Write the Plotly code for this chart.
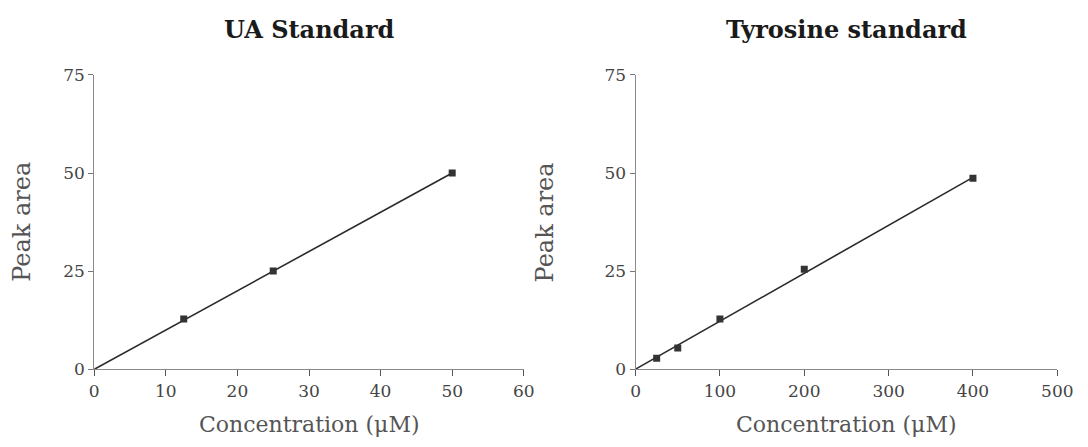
import plotly.graph_objects as go

# Calibration data
ua_conc = [12.5, 25, 50]
ua_area = [12.8, 25, 50]
ua_fit_x = [0, 50]
ua_fit_y = [0, 50]

tyr_conc = [25, 50, 100, 200, 400]
tyr_area = [2.8, 5.4, 12.8, 25.5, 48.7]
tyr_fit_x = [0, 400]
tyr_fit_y = [0, 48.9]

titles = ["UA Standard", "Tyrosine standard"]
x_title = "Concentration (μM)"
y_title = "Peak area"

W, H = 1088, 447

ink = "#2a2a2a"
axis_col = "#8a8a8a"
tick_font = dict(family="DejaVu Serif", size=17, color="#444444")
xlab_font = dict(family="DejaVu Serif", size=22, color="#555555")
ylab_font = dict(family="DejaVu Serif", size=24, color="#555555")
title_font = dict(family="DejaVu Serif", size=24, color="#1a1a1a")


def fx(p):
    return p / W


def fy(p):
    return 1 - p / H


fig = go.Figure()

panels = [
    dict(xa="x", ya="y", xd=[fx(91), fx(529)], xr=[0, 60], dt=10,
         cx=ua_conc, cy=ua_area, fx=ua_fit_x, fy=ua_fit_y, ylab=fx(17)),
    dict(xa="x2", ya="y2", xd=[fx(643), fx(1073)], xr=[0, 500], dt=100,
         cx=tyr_conc, cy=tyr_area, fx=tyr_fit_x, fy=tyr_fit_y, ylab=fx(551)),
]

yd = [fy(376), fy(68)]

for i, p in enumerate(panels):
    fig.add_trace(go.Scatter(x=p["fx"], y=p["fy"], mode="lines",
                             line=dict(color=ink, width=1.6),
                             xaxis=p["xa"], yaxis=p["ya"], showlegend=False))
    fig.add_trace(go.Scatter(x=p["cx"], y=p["cy"], mode="markers",
                             marker=dict(symbol="square", size=7, color="#333333"),
                             xaxis=p["xa"], yaxis=p["ya"], showlegend=False))
    suffix = "" if i == 0 else str(i + 1)
    fig.layout["xaxis" + suffix] = dict(
        domain=p["xd"], range=p["xr"], dtick=p["dt"], tick0=0,
        anchor=p["ya"], showgrid=False, zeroline=False,
        showline=True, linecolor=axis_col, linewidth=1,
        ticks="outside", ticklen=6, tickcolor="#555555", tickwidth=1,
        tickfont=tick_font, fixedrange=True, ticklabeloverflow="allow",
    )
    fig.layout["yaxis" + suffix] = dict(
        domain=yd, range=[0, 75], dtick=25, tick0=0,
        anchor=p["xa"], showgrid=False, zeroline=False,
        showline=True, linecolor=axis_col, linewidth=1,
        ticks="outside", ticklen=5, tickcolor="#777777", tickwidth=1,
        tickfont=tick_font, fixedrange=True,
    )
    cx = (p["xd"][0] + p["xd"][1]) / 2
    fig.add_annotation(text="<b>" + titles[i] + "</b>", x=cx, y=fy(20),
                       xref="paper", yref="paper", showarrow=False,
                       font=title_font, xanchor="center", yanchor="middle")
    fig.add_annotation(text=x_title, x=cx, y=0, yshift=-2,
                       xref="paper", yref="paper", showarrow=False,
                       font=xlab_font, xanchor="center", yanchor="bottom")
    fig.add_annotation(text=y_title, x=p["ylab"], y=(yd[0] + yd[1]) / 2,
                       xref="paper", yref="paper", showarrow=False, textangle=-90,
                       font=ylab_font, xanchor="center", yanchor="middle")

fig.update_layout(
    width=W, height=H,
    margin=dict(l=0, r=0, t=0, b=0),
    paper_bgcolor="white", plot_bgcolor="white",
)

fig.write_html("out.html")
